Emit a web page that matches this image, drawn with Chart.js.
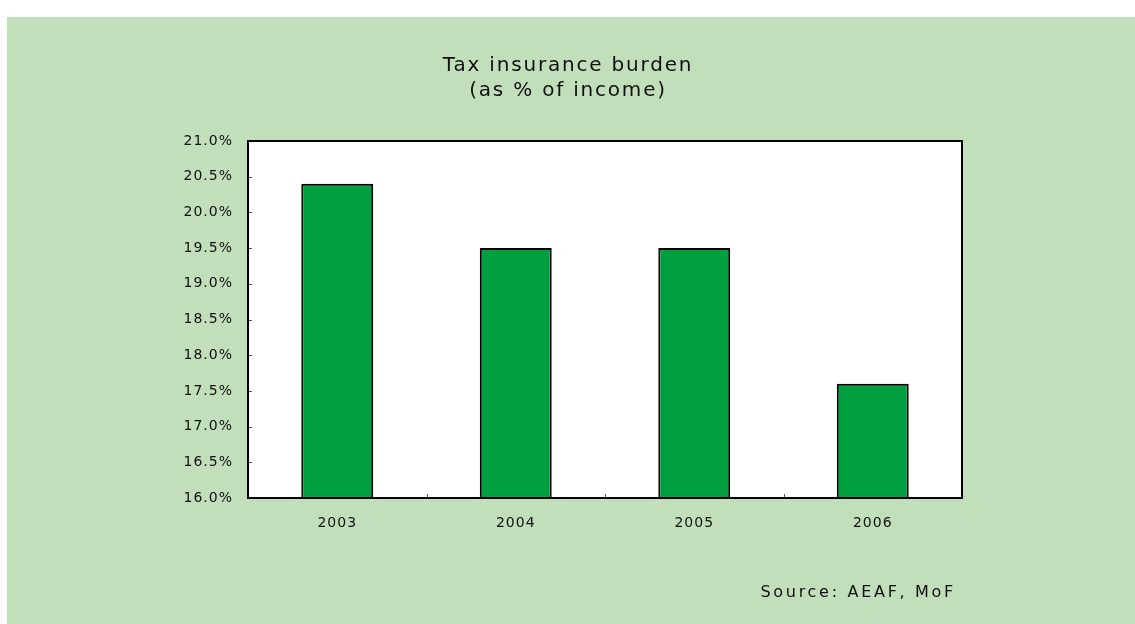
<!DOCTYPE html>
<html>
<head>
<meta charset="utf-8">
<script src="https://cdn.jsdelivr.net/npm/chart.js@4"></script>
<style>
  html, body { margin: 0; padding: 0; background: #ffffff; }
  #panel {
    position: absolute;
    left: 7px;
    top: 17px;
    width: 1128px;
    height: 607px;
    background: #c2dfbb;
  }
  canvas { display: block; }
</style>
</head>
<body>
<div id="panel"><canvas id="burdenChart" width="1128" height="607"></canvas></div>
<script>
const years = ["2003", "2004", "2005", "2006"];
const burden = [20.4, 19.5, 19.5, 17.6];
const titleLines = ["Tax insurance burden", "(as % of income)"];
const sourceNote = "Source: AEAF, MoF";

// white plot box with black frame and short inward ticks
const plotFrame = {
  id: "plotFrame",
  beforeDraw(chart) {
    chart.ctx.letterSpacing = "1px";
  },
  beforeDatasetsDraw(chart) {
    const { ctx, chartArea: a } = chart;
    ctx.save();
    ctx.fillStyle = "#ffffff";
    ctx.fillRect(a.left, a.top, a.right - a.left, a.bottom - a.top);
    ctx.restore();
  },
  afterDatasetsDraw(chart) {
    const { ctx, chartArea: a, scales } = chart;
    ctx.save();
    ctx.strokeStyle = "#555555";
    ctx.lineWidth = 1;
    scales.y.ticks.forEach((t) => {
      let y = Math.round(scales.y.getPixelForValue(t.value)) + 0.5;
      ctx.beginPath();
      ctx.moveTo(a.left, y);
      ctx.lineTo(a.left + 4, y);
      ctx.stroke();
    });
    for (let i = 1; i < years.length; i++) {
      let x = Math.round((scales.x.getPixelForValue(i - 1) + scales.x.getPixelForValue(i)) / 2) + 0.5;
      ctx.beginPath();
      ctx.moveTo(x, a.bottom);
      ctx.lineTo(x, a.bottom - 4);
      ctx.stroke();
    }
    ctx.strokeStyle = "#000000";
    ctx.lineWidth = 2;
    ctx.strokeRect(a.left, a.top, a.right - a.left, a.bottom - a.top);
    ctx.restore();
  },
};

// two-line heading and the source line, both letter-spaced
const headings = {
  id: "headings",
  afterDraw(chart) {
    const ctx = chart.ctx;
    let mid = chart.width / 2 - 3;
    ctx.save();
    ctx.fillStyle = "#111111";
    ctx.textBaseline = "middle";
    ctx.font = "20px 'DejaVu Sans'";
    ctx.letterSpacing = "1.8px";
    ctx.textAlign = "center";
    ctx.fillText(titleLines[0], mid, 49);
    ctx.fillText(titleLines[1], mid, 74);
    ctx.font = "16px 'DejaVu Sans'";
    ctx.letterSpacing = "2.7px";
    ctx.textAlign = "right";
    ctx.fillText(sourceNote, 949, 576);
    ctx.restore();
  },
};

new Chart(document.getElementById("burdenChart"), {
  type: "bar",
  data: {
    labels: years,
    datasets: [
      {
        data: burden,
        backgroundColor: "#00a040",
        borderColor: "#000000",
        borderWidth: 2,
        borderSkipped: false,
        categoryPercentage: 1,
        barPercentage: 0.403,
      },
    ],
  },
  options: {
    responsive: false,
    animation: false,
    layout: { padding: { left: 171, right: 173, top: 124, bottom: 86 } },
    plugins: {
      legend: { display: false },
      tooltip: { enabled: false },
    },
    scales: {
      x: {
        grid: { display: false, drawTicks: false },
        border: { display: false },
        ticks: { color: "#111111", font: { family: "'DejaVu Sans'", size: 14 }, padding: 17 },
        afterFit(scale) { scale.height = 40; },
      },
      y: {
        min: 16,
        max: 21,
        grid: { display: false, drawTicks: false },
        border: { display: false },
        ticks: {
          stepSize: 0.5,
          color: "#111111",
          font: { family: "'DejaVu Sans'", size: 14 },
          padding: 15,
          callback: (v) => v.toFixed(1) + "%",
        },
        afterFit(scale) { scale.width = 70; },
      },
    },
  },
  plugins: [plotFrame, headings],
});
</script>
</body>
</html>
